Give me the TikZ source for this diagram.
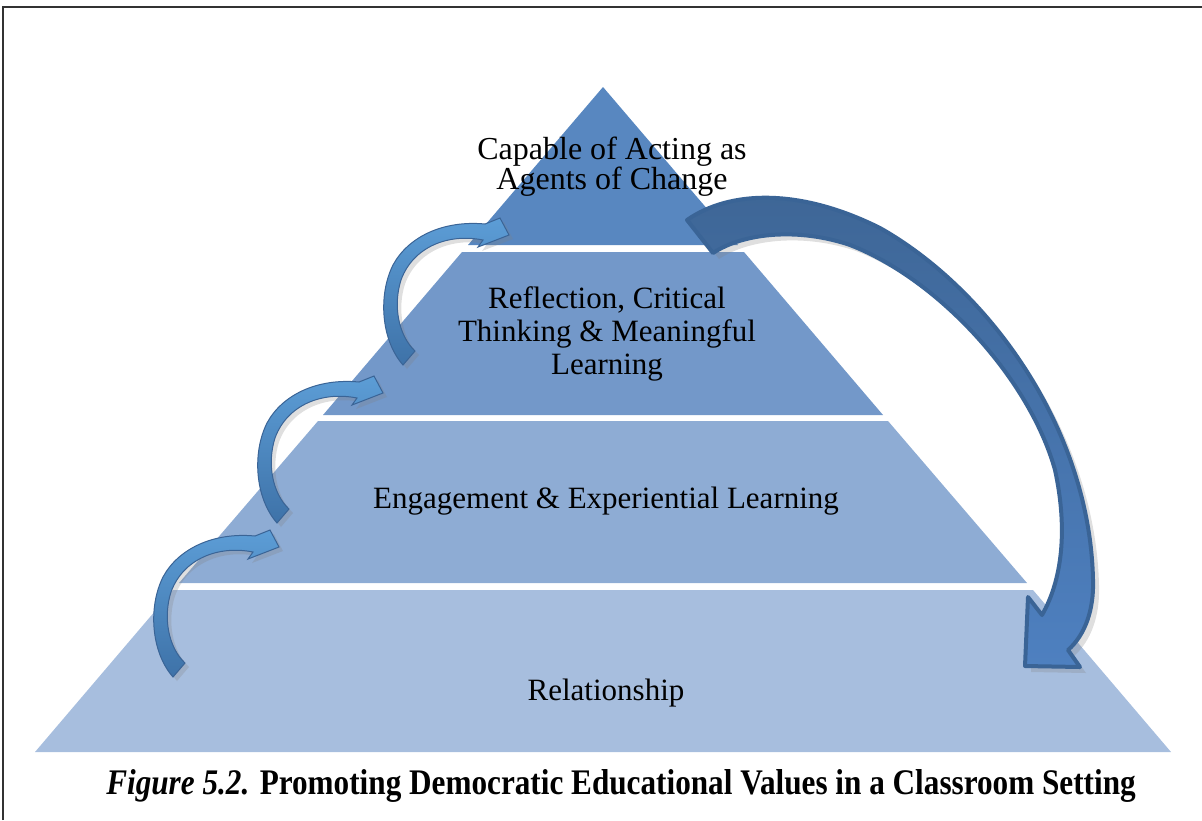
\documentclass[tikz,border=0pt]{standalone}
\usepackage{fontspec}
\setmainfont{Liberation Serif}
\newfontfamily\capfont[FakeStretch=0.867]{Liberation Serif}
\usetikzlibrary{shadows}
\definecolor{lvla}{RGB}{88,135,192}
\definecolor{lvlb}{RGB}{115,152,201}
\definecolor{lvlc}{RGB}{142,172,212}
\definecolor{lvld}{RGB}{167,190,222}
\definecolor{arrlight}{RGB}{92,157,214}
\definecolor{arrdark}{RGB}{62,114,168}
\definecolor{arredge}{RGB}{58,100,150}
\definecolor{bigtop}{RGB}{62,102,150}
\definecolor{bigbot}{RGB}{78,128,192}
\tikzstyle{txt}=[align=center,inner sep=0pt,font=\fontsize{15.5}{15}\selectfont]
\tikzstyle{smallarr}=[draw=arredge,line width=0.5pt,top color=arrlight,bottom color=arrdark,drop shadow={shadow xshift=2pt,shadow yshift=-2pt,opacity=0.25}]
\tikzstyle{bigarr}=[draw=arredge,line width=2pt,line join=round,top color=bigtop,bottom color=bigbot,drop shadow={shadow xshift=3pt,shadow yshift=-3pt,opacity=0.25}]

\begin{document}
\begin{tikzpicture}[x=0.5pt,y=-0.5pt]
\useasboundingbox (0,0) rectangle (1202,820);
% frame
\draw[line width=1pt,black!80] (3,820) -- (3,7) -- (1202,7);
% pyramid
\fill[lvla] (603,87) -- (738,245) -- (468,245) -- cycle;
\fill[lvlb] (462,252) -- (744,252) -- (883,415) -- (323,415) -- cycle;
\fill[lvlc] (318,421) -- (888,421) -- (1027,583) -- (179,583) -- cycle;
\fill[lvld] (173,590) -- (1033,590) -- (1171,752) -- (35,752) -- cycle;
\node[txt,font=\fontsize{16}{15}\selectfont] (agents) at (612,167) {Capable of Acting as\\Agents of Change};
\node[txt,font=\fontsize{15.5}{16.5}\selectfont] (reflect) at (607,334) {Reflection, Critical\\Thinking \& Meaningful\\Learning};
\node[txt] (engage) at (606,501) {Engagement \& Experiential Learning};
\node[txt] (relation) at (606,693) {Relationship};
% small arrows
\draw[smallarr,shift={(173,677)}] (0,0) .. controls (-22,-25) and (-25,-70) .. (-10,-100) .. controls (5,-128) and (40,-145) .. (82,-141) -- (97,-147) -- (106,-130) -- (75,-118) -- (80,-125) .. controls (45,-132) and (10,-118) .. (-2,-85) .. controls (-10,-60) and (-5,-30) .. (12,-14) -- cycle;
\draw[smallarr,shift={(277,523)}] (0,0) .. controls (-22,-25) and (-25,-70) .. (-10,-100) .. controls (5,-128) and (40,-145) .. (82,-141) -- (97,-147) -- (106,-130) -- (75,-118) -- (80,-125) .. controls (45,-132) and (10,-118) .. (-2,-85) .. controls (-10,-60) and (-5,-30) .. (12,-14) -- cycle;
\draw[smallarr,shift={(403,365)}] (0,0) .. controls (-22,-25) and (-25,-70) .. (-10,-100) .. controls (5,-128) and (40,-145) .. (82,-141) -- (97,-147) -- (106,-130) -- (75,-118) -- (80,-125) .. controls (45,-132) and (10,-118) .. (-2,-85) .. controls (-10,-60) and (-5,-30) .. (12,-14) -- cycle;
% big arrow
\draw[bigarr] (687,220) .. controls (730,190) and (800,188) .. (880,228) .. controls (990,290) and (1090,430) .. (1093,580) .. controls (1094,610) and (1085,635) .. (1068,650) -- (1080,667) -- (1025,666) -- (1028,597) -- (1042,615) .. controls (1062,580) and (1068,530) .. (1055,470) .. controls (1030,380) and (940,280) .. (850,245) .. controls (800,228) and (745,232) .. (713,253) -- cycle;
% caption
\node[inner sep=0pt] (caption) at (621,786) {\capfont\fontsize{18}{18}\selectfont\textbf{\textit{Figure 5.2.}} \textbf{Promoting Democratic Educational Values in a Classroom Setting}};
\end{tikzpicture}
\end{document}
